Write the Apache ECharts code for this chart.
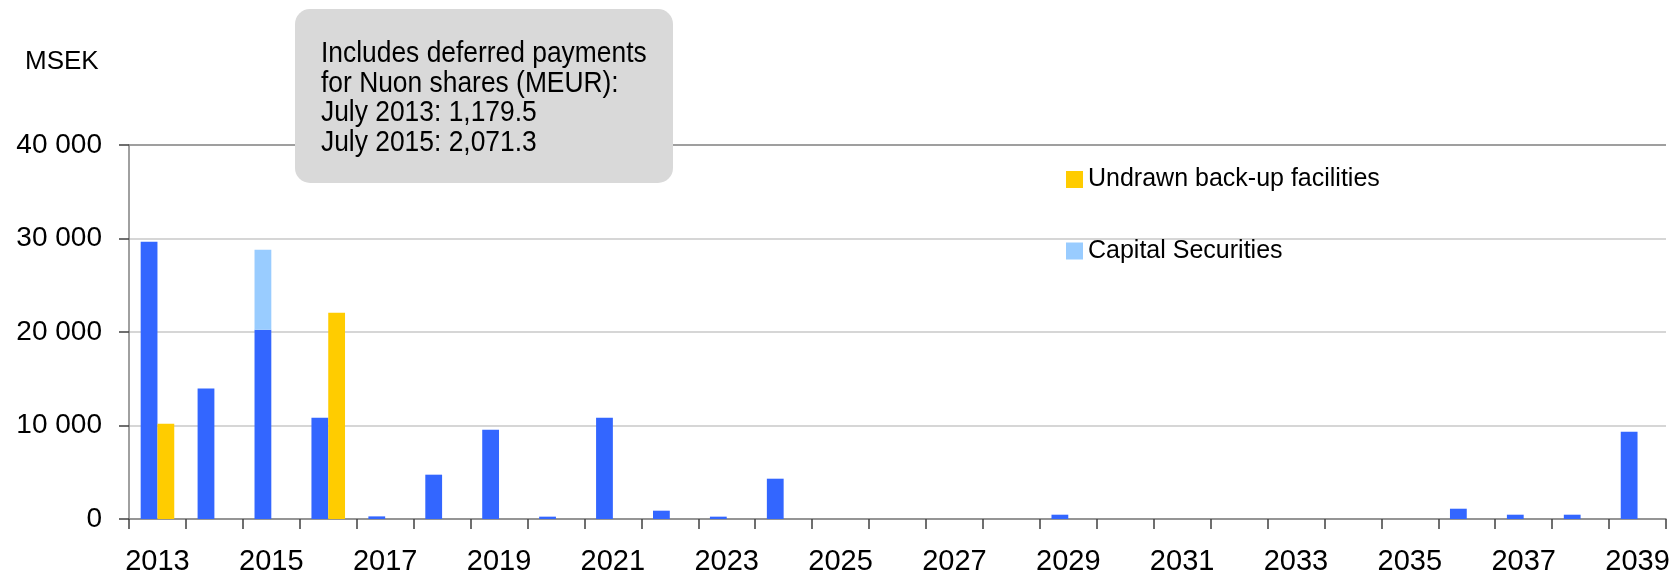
<!DOCTYPE html>
<html>
<head>
<meta charset="utf-8">
<script src="https://cdn.jsdelivr.net/npm/echarts@6/dist/echarts.min.js"></script>
<style>
  html, body { margin: 0; padding: 0; background: #ffffff; }
  #chart { width: 1673px; height: 579px; }
</style>
</head>
<body>
<div id="chart"></div>
<script>
// Debt maturity profile, MSEK per year
const years = ['2013','2014','2015','2016','2017','2018','2019','2020','2021','2022','2023','2024','2025','2026',
               '2027','2028','2029','2030','2031','2032','2033','2034','2035','2036','2037','2038','2039'];
const debtMaturities = [29650, 13950, 20250, 10830, 280, 4740, 9550, 250, 10830, 890, 250, 4310, 0, 0,
                        0, 0, 460, 0, 0, 0, 0, 0, 0, 1100, 460, 460, 9340];
const capitalSecurities = [null, null, 8550, null, null, null, null, null, null, null, null, null, null, null,
                           null, null, null, null, null, null, null, null, null, null, null, null, null];
const undrawnFacilities = [10200, null, null, 22050, null, null, null, null, null, null, null, null, null, null,
                           null, null, null, null, null, null, null, null, null, null, null, null, null];
const noteLines = ['Includes deferred payments', 'for Nuon shares (MEUR):', 'July 2013: 1,179.5', 'July 2015: 2,071.3'];

const FONT = '"Liberation Sans", Arial, sans-serif';

const chart = echarts.init(document.getElementById('chart'), null, { renderer: 'canvas' });

const fmt = v => String(v).replace(/\B(?=(\d{3})+(?!\d))/g, ' ');

// Note text is drawn slightly tall (vertical scale) in a rounded grey box
const NOTE_SCALE_Y = 1.15;

chart.setOption({
  backgroundColor: '#ffffff',
  animation: false,
  textStyle: { fontFamily: FONT, color: '#000000' },
  title: {
    text: 'MSEK',
    left: 25, top: 49, padding: 0,
    textStyle: { fontFamily: FONT, fontSize: 26, fontWeight: 'normal', color: '#000000' }
  },
  legend: {
    orient: 'vertical',
    left: 1066, top: 167, padding: 0,
    itemWidth: 17, itemHeight: 17, itemGap: 46.5,
    icon: 'rect',
    data: ['Undrawn back-up facilities', 'Capital Securities'],
    textStyle: { fontFamily: FONT, fontSize: 25, color: '#000000' }
  },
  grid: { left: 129, right: 7, top: 145, bottom: 60, containLabel: false },
  xAxis: {
    type: 'category',
    data: years,
    boundaryGap: true,
    axisLine: { lineStyle: { color: '#808080', width: 1.5 } },
    axisTick: { show: true, interval: 0, length: 10, lineStyle: { color: '#404040', width: 1.5 } },
    axisLabel: { interval: 1, margin: 28, fontSize: 29, fontFamily: FONT, color: '#000000' }
  },
  yAxis: {
    type: 'value',
    min: 0, max: 40000, interval: 10000,
    axisLine: { show: true, lineStyle: { color: '#808080', width: 1.5 } },
    axisTick: { show: true, length: 10, lineStyle: { color: '#404040', width: 1.5 } },
    axisLabel: { margin: 27, fontSize: 28, fontFamily: FONT, color: '#000000', formatter: fmt },
    splitLine: { show: true, lineStyle: { color: '#c8c8c8', width: 1.5 } }
  },
  series: [
    {
      name: 'Debt maturities',
      type: 'bar',
      stack: 'debt',
      data: debtMaturities,
      itemStyle: { color: '#3366ff' },
      barCategoryGap: '41%',
      barGap: '0%',
      markLine: {
        silent: true,
        symbol: 'none',
        label: { show: false },
        lineStyle: { color: '#8c8c8c', type: 'solid', width: 1.5 },
        data: [{ yAxis: 40000 }]
      }
    },
    {
      name: 'Capital Securities',
      type: 'bar',
      stack: 'debt',
      data: capitalSecurities,
      itemStyle: { color: '#99ccff' }
    },
    {
      name: 'Undrawn back-up facilities',
      type: 'bar',
      data: undrawnFacilities,
      itemStyle: { color: '#ffcc00' },
      barCategoryGap: '41%',
      barGap: '0%'
    }
  ],
  graphic: [
    {
      type: 'group',
      left: 295, top: 9,
      z: 100,
      children: [
        {
          type: 'rect',
          z: 100,
          shape: { x: 0, y: 0, width: 378, height: 174, r: 15 },
          style: { fill: '#d9d9d9' }
        },
        {
          type: 'text',
          z: 101,
          x: 26, y: 30,
          scaleY: NOTE_SCALE_Y,
          style: {
            text: noteLines.join('\n'),
            fontFamily: FONT, fontSize: 26.4, lineHeight: 29.5 / NOTE_SCALE_Y,
            fill: '#000000'
          }
        }
      ]
    }
  ]
});
</script>
</body>
</html>
